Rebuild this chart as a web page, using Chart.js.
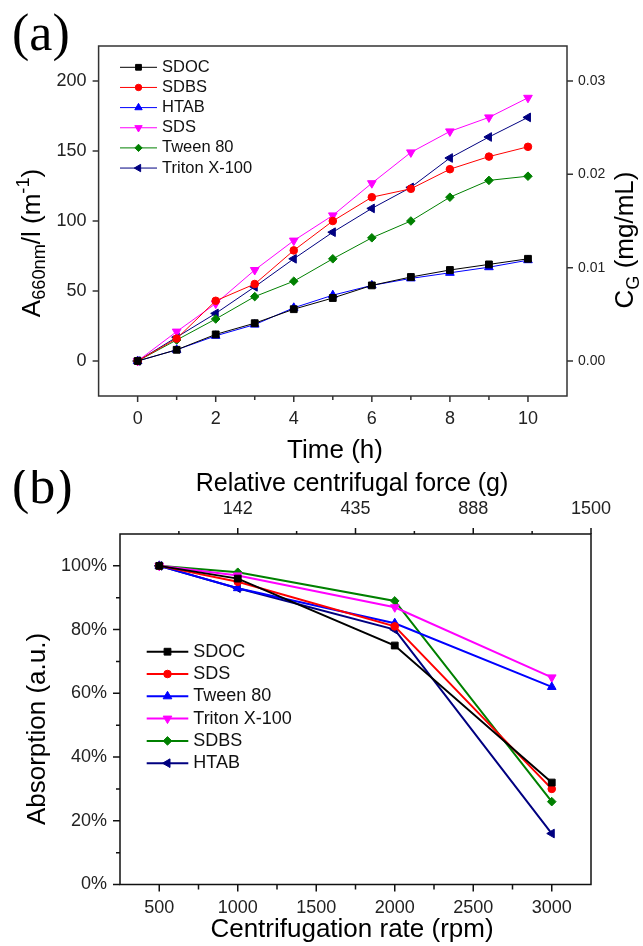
<!DOCTYPE html>
<html>
<head>
<meta charset="utf-8">
<script src="https://cdn.jsdelivr.net/npm/chart.js@4.4.0/dist/chart.umd.min.js"></script>
<style>
  html, body { margin: 0; padding: 0; background: #fff; }
  #page { position: relative; width: 643px; height: 946px; }
  canvas { display: block; }
</style>
</head>
<body>
<div id="page">
  <canvas id="chartA" width="643" height="470"></canvas>
  <canvas id="chartB" width="643" height="476"></canvas>
</div>
<script>
// (a) absorbance vs time
const hours = [0, 1, 2, 3, 4, 5, 6, 7, 8, 9, 10];
const sdocA = [0, 8, 19, 27, 37, 45, 54, 60, 65, 69, 73];
const sdbsA = [0, 16, 43, 55, 79, 100, 117, 123, 137, 146, 153];
const htabA = [0, 8, 18, 26, 38, 47, 54, 59, 63, 67, 72];
const sdsA = [0, 21, 41, 65, 86, 104, 127, 149, 164, 174, 188];
const tweenA = [0, 15, 30, 46, 57, 73, 88, 100, 117, 129, 132];
const tritonA = [0, 17, 34, 53, 73, 92, 109, 124, 145, 160, 174];
const hourTicks = [0, 2, 4, 6, 8, 10];
const absTicks = [0, 50, 100, 150, 200];
const concTicks = [0, 0.01, 0.02, 0.03];

// (b) absorption vs centrifugation rate
const rpm = [500, 1000, 2000, 3000];
const sdocB = [100, 96, 75, 32];
const sdsB = [100, 95, 81, 30];
const tweenB = [100, 93, 82, 62];
const tritonB = [100, 97, 87, 65];
const sdbsB = [100, 98, 89, 26];
const htabB = [100, 93, 80, 16];
const rpmTicks = [500, 1000, 1500, 2000, 2500, 3000];
const pctTicks = [0, 20, 40, 60, 80, 100];
const rcfTickRpm = [1000, 1750, 2500, 3250];
const rcfLabels = ['142', '435', '888', '1500'];

const FONT = '"Liberation Sans", Arial, sans-serif';
// chart.js shapes come out at different sizes for one radius, so even them out
const markerRadius = { rect: 4.8, circle: 3.8, triangle: 5, rectRot: 4.3 };

function series(label, color, xs, ys, style, rot, width) {
  return {
    label: label,
    data: xs.map((x, i) => ({ x: x, y: ys[i] })),
    borderColor: color,
    backgroundColor: color,
    pointBackgroundColor: color,
    pointBorderColor: color,
    pointStyle: style,
    pointRotation: rot,
    pointRadius: markerRadius[style],
    pointBorderWidth: 1,
    borderWidth: width,
    tension: 0
  };
}

function setTicks(vals) {
  return s => { s.ticks = vals.map(v => ({ value: v })); };
}

function tickLines(ctx, s, area, vals, len) {
  ctx.beginPath();
  vals.forEach(v => {
    const p = s.getPixelForValue(v);
    if (s.position === 'left') { ctx.moveTo(area.left, p); ctx.lineTo(area.left - len, p); }
    else if (s.position === 'right') { ctx.moveTo(area.right, p); ctx.lineTo(area.right + len, p); }
    else if (s.position === 'top') { ctx.moveTo(p, area.top); ctx.lineTo(p, area.top - len); }
    else { ctx.moveTo(p, area.bottom); ctx.lineTo(p, area.bottom + len); }
  });
  ctx.stroke();
}

// box round the plot plus outward major / minor tick marks
const frameAndTicks = {
  id: 'frameAndTicks',
  afterDraw(chart, args, o) {
    const ctx = chart.ctx, a = chart.chartArea;
    ctx.save();
    ctx.strokeStyle = o.color;
    ctx.lineWidth = o.width;
    ctx.strokeRect(a.left, a.top, a.right - a.left, a.bottom - a.top);
    Object.keys(o.axes).forEach(id => {
      const s = chart.scales[id], spec = o.axes[id];
      const vals = s.ticks.map(t => t.value);
      tickLines(ctx, s, a, vals, spec.major);
      if (spec.minor) {
        const step = vals[1] - vals[0], mins = [];
        for (let v = vals[0] - step / 2; v < s.max - 1e-9; v += step) {
          if (v > s.min + 1e-9) mins.push(v);
        }
        tickLines(ctx, s, a, mins, spec.minor);
      }
    });
    ctx.restore();
  }
};

// legend drawn inside the plot
const insideLegend = {
  id: 'insideLegend',
  afterDatasetsDraw(chart, args, o) {
    const ctx = chart.ctx;
    ctx.save();
    ctx.font = o.size + 'px ' + FONT;
    ctx.textBaseline = 'middle';
    chart.data.datasets.forEach((ds, i) => {
      const y = o.y + i * o.row;
      ctx.strokeStyle = ds.borderColor;
      ctx.lineWidth = ds.borderWidth;
      ctx.beginPath();
      ctx.moveTo(o.x, y);
      ctx.lineTo(o.x + o.len, y);
      ctx.stroke();
      ctx.fillStyle = ds.borderColor;
      ctx.lineWidth = 1;
      Chart.helpers.drawPoint(ctx, {
        pointStyle: ds.pointStyle, rotation: ds.pointRotation || 0,
        radius: ds.pointRadius * o.scale, borderWidth: 1
      }, o.x + o.len / 2, y);
      ctx.fillStyle = '#111';
      ctx.fillText(ds.label, o.x + o.len + o.gap, y);
    });
    ctx.restore();
  }
};

// text with sub/superscripts, centred on (x, y) along its baseline
function drawRich(ctx, parts, x, y, size, rot) {
  const fontOf = p => ((p.sub || p.sup) ? size * 0.7 : size) + 'px ' + FONT;
  ctx.save();
  ctx.translate(x, y);
  ctx.rotate(rot);
  ctx.fillStyle = '#000';
  ctx.textAlign = 'left';
  ctx.textBaseline = 'alphabetic';
  let w = 0;
  parts.forEach(p => { ctx.font = fontOf(p); w += ctx.measureText(p.t).width; });
  let cx = -w / 2;
  parts.forEach(p => {
    ctx.font = fontOf(p);
    const dy = p.sub ? size * 0.22 : (p.sup ? -size * 0.4 : 0);
    ctx.fillText(p.t, cx, dy);
    cx += ctx.measureText(p.t).width;
  });
  ctx.restore();
}

const titles = {
  id: 'titles',
  afterDraw(chart, args, o) {
    const ctx = chart.ctx;
    ctx.save();
    ctx.fillStyle = '#000';
    ctx.font = '52px "Liberation Serif", "Times New Roman", serif';
    ctx.textBaseline = 'alphabetic';
    ctx.fillText(o.panel[0], o.panel[1], o.panel[2]);
    ctx.restore();
    o.items.forEach(it => drawRich(ctx, it.parts, it.x, it.y, it.size, it.rot || 0));
  }
};

function axisTicks(size, pad) {
  return {
    padding: pad, color: '#222', font: { family: FONT, size: size },
    maxRotation: 0, autoSkip: false, callback: v => String(v)
  };
}
const noGrid = { display: false, drawTicks: false };

new Chart(document.getElementById('chartA'), {
  type: 'line',
  data: {
    datasets: [
      series('SDOC', '#000000', hours, sdocA, 'rect', 0, 1),
      series('SDBS', '#ff0000', hours, sdbsA, 'circle', 0, 1),
      series('HTAB', '#0000ff', hours, htabA, 'triangle', 0, 1),
      series('SDS', '#ff00ff', hours, sdsA, 'triangle', 180, 1),
      series('Tween 80', '#008000', hours, tweenA, 'rectRot', 0, 1),
      series('Triton X-100', '#000080', hours, tritonA, 'triangle', 270, 1)
    ]
  },
  options: {
    responsive: false,
    animation: false,
    layout: { padding: { top: 46, left: 0, right: 0, bottom: 0 } },
    scales: {
      x: {
        type: 'linear', position: 'bottom', min: -1, max: 11,
        afterBuildTicks: setTicks(hourTicks),
        afterFit: s => { s.height = 74; },
        grid: noGrid, border: { display: false },
        ticks: axisTicks(18, 12)
      },
      y: {
        type: 'linear', position: 'left', min: -25, max: 225,
        afterBuildTicks: setTicks(absTicks),
        afterFit: s => { s.width = 98.6; },
        grid: noGrid, border: { display: false },
        ticks: axisTicks(18, 12)
      },
      y2: {
        type: 'linear', position: 'right', min: -0.00375, max: 0.03375,
        afterBuildTicks: setTicks(concTicks),
        afterFit: s => { s.width = 76; },
        grid: noGrid, border: { display: false },
        ticks: Object.assign(axisTicks(14, 11), { callback: v => v.toFixed(2) })
      }
    },
    plugins: {
      legend: { display: false },
      tooltip: { enabled: false },
      frameAndTicks: { color: '#333', width: 1.5, axes: { x: { major: 6, minor: 4 }, y: { major: 6 }, y2: { major: 6 } } },
      insideLegend: { x: 120, y: 67.3, row: 20.15, len: 37, gap: 5, size: 16.5, scale: 0.85 },
      titles: {
        panel: ['(a)', 12, 50],
        items: [
          { parts: [{ t: 'A' }, { t: '660nm', sub: true }, { t: '/l (m' }, { t: '-1', sup: true }, { t: ')' }], x: 39.5, y: 243, size: 26, rot: -Math.PI / 2 },
          { parts: [{ t: 'C' }, { t: 'G', sub: true }, { t: ' (mg/mL)' }], x: 633, y: 240, size: 26, rot: -Math.PI / 2 },
          { parts: [{ t: 'Time (h)' }], x: 335, y: 458, size: 26 }
        ]
      }
    }
  },
  plugins: [frameAndTicks, insideLegend, titles]
});

new Chart(document.getElementById('chartB'), {
  type: 'line',
  data: {
    datasets: [
      series('SDOC', '#000000', rpm, sdocB, 'rect', 0, 2),
      series('SDS', '#ff0000', rpm, sdsB, 'circle', 0, 2),
      series('Tween 80', '#0000ff', rpm, tweenB, 'triangle', 0, 2),
      series('Triton X-100', '#ff00ff', rpm, tritonB, 'triangle', 180, 2),
      series('SDBS', '#008000', rpm, sdbsB, 'rectRot', 0, 2),
      series('HTAB', '#000080', rpm, htabB, 'triangle', 270, 2)
    ]
  },
  options: {
    responsive: false,
    animation: false,
    layout: { padding: { top: 0, left: 0, right: 52, bottom: 0 } },
    scales: {
      x: {
        type: 'linear', position: 'bottom', min: 250, max: 3250,
        afterBuildTicks: setTicks(rpmTicks),
        afterFit: s => { s.height = 61.5; },
        grid: noGrid, border: { display: false },
        ticks: axisTicks(18, 13)
      },
      x2: {
        type: 'linear', position: 'top', min: 250, max: 3250,
        afterBuildTicks: setTicks(rcfTickRpm),
        afterFit: s => { s.height = 64; },
        grid: noGrid, border: { display: false },
        ticks: Object.assign(axisTicks(18, 14), { callback: (v, i) => rcfLabels[i] })
      },
      y: {
        type: 'linear', position: 'left', min: 0, max: 110,
        afterBuildTicks: setTicks(pctTicks),
        afterFit: s => { s.width = 120; },
        grid: noGrid, border: { display: false },
        ticks: Object.assign(axisTicks(18, 13), { callback: v => v + '%' })
      }
    },
    plugins: {
      legend: { display: false },
      tooltip: { enabled: false },
      frameAndTicks: { color: '#111', width: 1.5, axes: { x: { major: 7, minor: 5 }, x2: { major: 6, minor: 3 }, y: { major: 7, minor: 4 } } },
      insideLegend: { x: 146.7, y: 181.7, row: 22.3, len: 41.6, gap: 5, size: 18, scale: 1 },
      titles: {
        panel: ['(b)', 12, 33],
        items: [
          { parts: [{ t: 'Relative centrifugal force (g)' }], x: 352, y: 21, size: 25 },
          { parts: [{ t: 'Centrifugation rate (rpm)' }], x: 352, y: 467, size: 26 },
          { parts: [{ t: 'Absorption (a.u.)' }], x: 45, y: 259, size: 26, rot: -Math.PI / 2 }
        ]
      }
    }
  },
  plugins: [frameAndTicks, insideLegend, titles]
});
</script>
</body>
</html>
